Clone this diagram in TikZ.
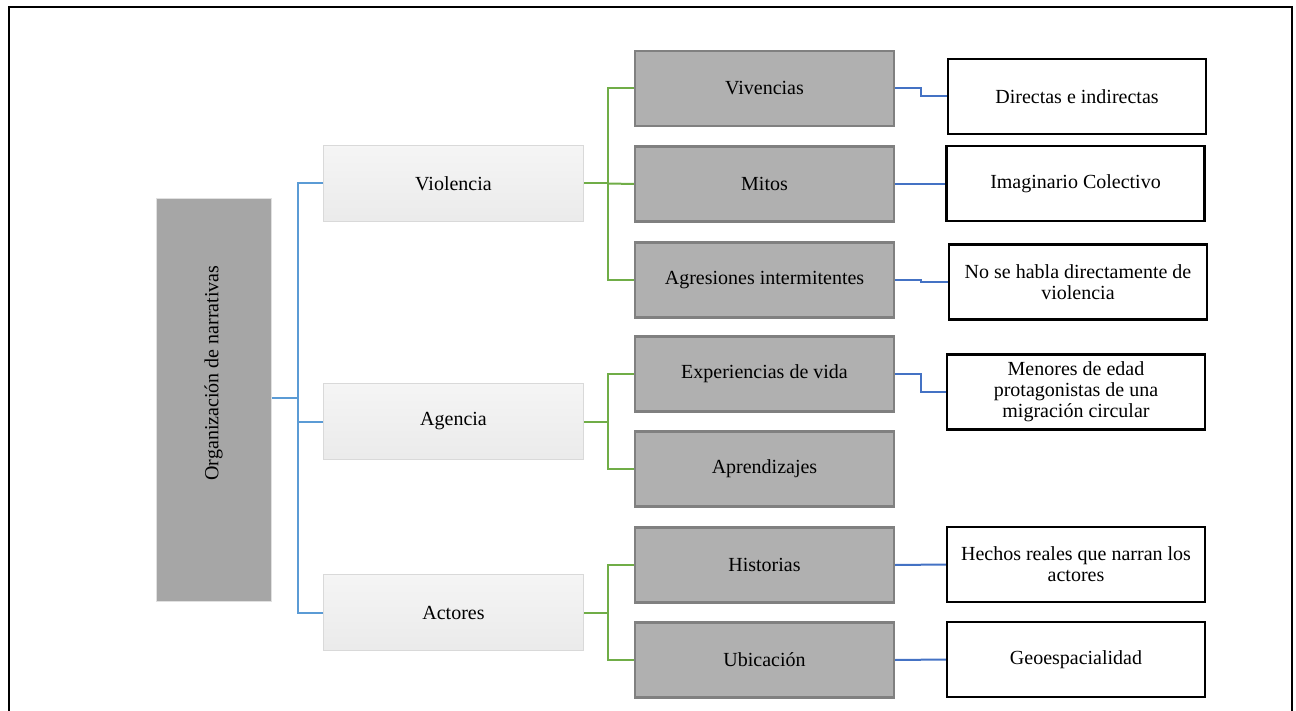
\documentclass[tikz,border=0pt]{standalone}
\usepackage{fontspec}
\setmainfont{Liberation Serif}
\definecolor{bluea}{HTML}{5B9BD5}
\definecolor{greena}{HTML}{70AD47}
\definecolor{blueb}{HTML}{4472C4}
\begin{document}
\begin{tikzpicture}[x=1pt,y=-1pt,
  every node/.style={font=\fontsize{20}{21}\selectfont, align=center, inner sep=2pt},
  rootbox/.style={draw=black!12, line width=1pt, fill=black!35, minimum width=115pt, minimum height=402pt},
  catbox/.style={draw=black!15, line width=1.5pt, top color=black!4, bottom color=black!8, minimum width=260pt, minimum height=76pt},
  subbox/.style={draw=black!50, line width=2.2pt, fill=black!31, minimum width=259pt, minimum height=75pt},
  leafbox/.style={draw=black, line width=2.2pt, fill=white, minimum width=258pt, minimum height=75pt},
  lvlone/.style={draw=bluea, line width=2pt},
  lvltwo/.style={draw=greena, line width=2pt},
  lvlthree/.style={draw=blueb, line width=2pt}
]
\useasboundingbox (0,0) rectangle (1296,711);
% outer frame, open at the bottom
\draw[line width=2pt] (9,715) -- (9,7) -- (1292,7) -- (1292,715);

% root
\node[rootbox] (root) at (213.5,400) {};
\node[rotate=90] (roottext) at (213.5,373) {Organización de narrativas};

% categories
\node[catbox] (viol) at (453.5,183.5) {Violencia};
\node[catbox] (agen) at (453.5,421.5) {Agencia};
\node[catbox] (acto) at (453.5,612.5) {Actores};

% sub-categories
\node[subbox] (viv) at (764.5,88.5) {Vivencias};
\node[subbox] (mit) at (764.5,184) {Mitos};
\node[subbox] (agr) at (764.5,280) {Agresiones intermitentes};
\node[subbox] (exp) at (764.5,374) {Experiencias de vida};
\node[subbox] (apr) at (764.5,469) {Aprendizajes};
\node[subbox] (his) at (764.5,565) {Historias};
\node[subbox] (ubi) at (764.5,660) {Ubicación};

% descriptions
\node[leafbox] (dir) at (1077,96.5) {Directas e indirectas};
\node[leafbox] (ima) at (1075.5,183.5) {Imaginario Colectivo};
\node[leafbox] (hab) at (1078,282) {No se habla directamente de\\violencia};
\node[leafbox] (men) at (1076,392) {Menores de edad\\protagonistas de una\\migración circular};
\node[leafbox] (hec) at (1076,564.5) {Hechos reales que narran los\\actores};
\node[leafbox] (geo) at (1076,659.5) {Geoespacialidad};

% root to categories
\coordinate (busa) at (298,398);
\draw[lvlone] (root.east |- busa) -- (busa);
\draw[lvlone] (busa) |- (viol.west);
\draw[lvlone] (busa) |- (acto.west);
\draw[lvlone] (busa) |- (agen.west);

% categories to sub-categories
\coordinate (busv) at (608,183.5);
\draw[lvltwo] (viol.east) -- (busv);
\draw[lvltwo] (busv) |- (viv.west);
\draw[lvltwo] (busv) |- (agr.west);
\draw[lvltwo] (busv) -- (mit.west);

\coordinate (busg) at (608,421.5);
\draw[lvltwo] (agen.east) -- (busg);
\draw[lvltwo] (busg) |- (exp.west);
\draw[lvltwo] (busg) |- (apr.west);

\coordinate (busc) at (608,612.5);
\draw[lvltwo] (acto.east) -- (busc);
\draw[lvltwo] (busc) |- (his.west);
\draw[lvltwo] (busc) |- (ubi.west);

% sub-categories to descriptions
\draw[lvlthree] (viv.east) -- ++(26,0) |- (dir.west);
\draw[lvlthree] (mit.east) -- (ima.west |- mit.east);
\draw[lvlthree] (agr.east) -- ++(26,0) |- (hab.west);
\draw[lvlthree] (exp.east) -- ++(26,0) |- (men.west);
\draw[lvlthree] (his.east) -- (hec.west);
\draw[lvlthree] (ubi.east) -- (geo.west);
\end{tikzpicture}
\end{document}
